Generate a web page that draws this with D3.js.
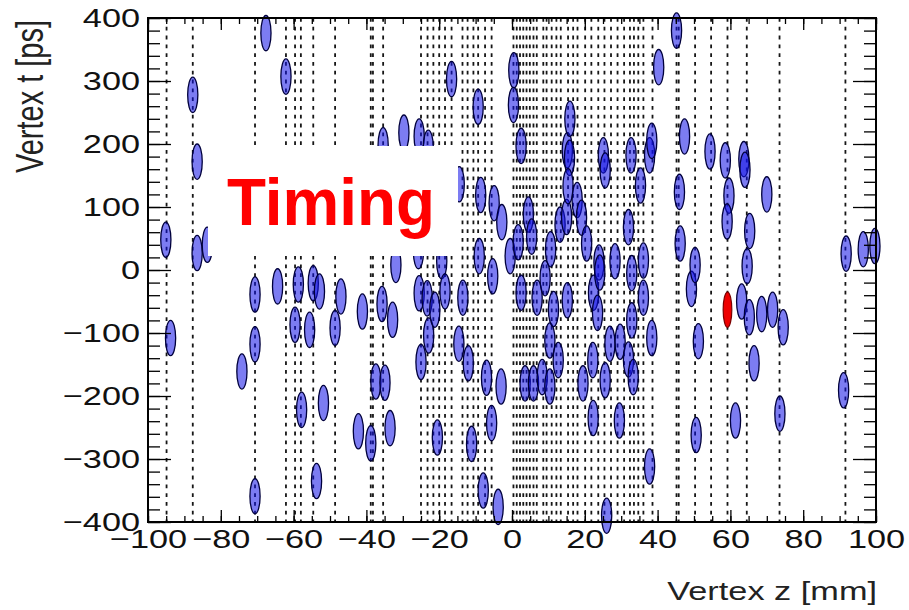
<!DOCTYPE html>
<html>
<head>
<meta charset="utf-8">
<script src="https://cdn.jsdelivr.net/npm/d3@7"></script>
<style>
  body { margin: 0; background: #fff; }
  text { font-family: "Liberation Sans", Arial, sans-serif; }
  .tick line { stroke: #000; stroke-width: 1.3; }
  .domain { display: none; }
</style>
</head>
<body>
<div id="graph-container"></div>
<script>
// reconstructed vertex positions (dashed lines), mm
const vertexZ = [-94.9, -87.7, -70.6, -62.1, -59.6, -58.0, -54.6, -48.6, -38.8, -38.2, -35.4,
  -25.0, -23.2, -21.6, -20.0, -18.4, -16.6, -13.6, -12.2, -10.6, -9.3, -7.4, -5.6,
  0.4, 1.3, 2.2, 3.1, 4.0, 4.9, 5.9, 6.8, 8.6, 9.5, 10.9, 12.2, 13.4, 15.4, 16.8, 18.0,
  20.1, 21.8, 23.7, 25.4, 27.2, 29.0, 30.8, 32.4, 33.5, 34.7, 36.1, 38.6,
  45.2, 45.8, 50.3, 54.7, 59.2, 64.5, 73.5, 91.6];

// track clusters: z [mm] and t [ps]
const trackZ = [-95.1, -93.8, -87.7, -86.5, -86.5, -83.7, -74.2, -70.6, -70.6, -70.6, -67.6, -64.4,
  -62.1, -59.6, -58.7, -57.8, -55.6, -54.6, -53.7, -52.9, -51.8, -48.6, -47.0, -42.2, -41.1,
  -38.8, -37.4, -35.7, -35.4, -34.9, -33.5, -32.8, -31.9, -29.7,
  -25.5, -25.7, -25.5, -25.0, -23.3, -23.0, -22.9, -21.2, -20.5, -19.3, -18.4, -16.6, -14.5,
  -14.6, -13.5, -12.0, -11.1, -9.3, -9.0, -8.6, -7.9, -7.0, -5.3, -5.6, -4.9, -3.8, -3.0, -2.8,
  -0.5, 0.5, 0.4, 1.7, 2.5, 2.5, 3.6, 4.5, 5.4, 5.9, 6.9, 8.3, 9.1, 10.4, 10.4, 10.6, 11.4,
  12.7, 13.2, 15.0, 15.2, 15.8, 15.9, 15.4, 15.2, 17.9, 19.1, 19.5, 20.5, 22.2, 22.4, 22.3,
  23.5, 23.9, 24.1, 25.1, 25.6, 25.6, 26.0, 26.9, 28.3, 29.5, 29.7, 32.0, 32.0, 32.7, 32.9,
  32.9, 33.3, 35.3, 36.1, 36.1, 37.8, 38.4, 38.4, 37.8, 40.3, 45.2, 46.0, 46.2, 47.4, 49.3,
  50.3, 51.2, 50.6, 54.4, 58.6, 59.6, 59.1, 61.4, 63.1, 63.7, 64.0, 64.6, 65.3, 65.2, 66.5,
  68.6, 70.0, 71.6, 73.6, 74.5, 91.1, 91.8, 96.5, 99.7];
const trackT = [48, -108, 278, 172, 27, 40, -161, -39, -118, -359, 376, -26,
  307, -87, -23, -222, -95, -21, -335, -34, -211, -92, -42, -256, -66,
  -275, -177, -54, 198, -179, -251, -79, 8, 218,
  212, 30, -37, -146, -45, 194, -104, -63, -266, 14, -34, 303, 136,
  -117, -44, -148, -276, 259, 22, 119, -350, -171, -10, -243, 106, -376, -185, 76,
  22, 317, 262, 44, 197, -36, -180, 88, 53, -180, -44, -170, -13, -112, -185, 33, -62,
  -143, 72, 84, 190, 178, 240, 133, -48, 111, 83, -180, 42, -143, -36, -235,
  -68, 12, -4, 182, 158, -175, -390, -117, 14, -239, -114, 68, -142, 182, -80,
  -5, -170, 134, 15, -44, 182, 205, -108, -312, 322, 380, 124, 42, 212, -30,
  8, -113, -262, 188, 174, 118, 77, -239, -50, 176, 159, 6, 62, -75, -148,
  -70, 120, -63, -228, -91, -191, 26, 33, 38];

// the signal vertex
const signalZ = [59.2];
const signalT = [-63];

const xTicks = [-100, -80, -60, -40, -20, 0, 20, 40, 60, 80, 100];
const yTicks = [-400, -300, -200, -100, 0, 100, 200, 300, 400];

// resolution of each cluster (ellipse half axes)
const sigmaZ = 1.4;
const sigmaT = 28;

const W = 909, H = 610;
const plot = { left: 148, right: 876, top: 18, bottom: 522 };
const stretch = 1.32;

const x = d3.scaleLinear().domain([-100, 100]).range([plot.left, plot.right]);
const y = d3.scaleLinear().domain([-400, 400]).range([plot.bottom, plot.top]);

const svg = d3.select('#graph-container')
              .append('svg')
              .attr('width', W)
              .attr('height', H);

// vertex lines
svg.append('g')
   .selectAll('line')
   .data(vertexZ)
   .enter()
   .append('line')
   .attr('x1', d => x(d))
   .attr('x2', d => x(d))
   .attr('y1', y(400))
   .attr('y2', y(-400))
   .attr('stroke', '#161616')
   .attr('stroke-width', 1.8)
   .attr('stroke-dasharray', '3.8,5');

const rx = x(sigmaZ) - x(0);
const ry = y(0) - y(sigmaT);

// track clusters
svg.append('g')
   .selectAll('ellipse')
   .data(trackZ.map((z, i) => [z, trackT[i]]))
   .enter()
   .append('ellipse')
   .attr('cx', d => x(d[0]))
   .attr('cy', d => y(d[1]))
   .attr('rx', rx)
   .attr('ry', ry)
   .attr('fill', '#1010e8')
   .attr('fill-opacity', 0.55)
   .attr('stroke', '#00003c')
   .attr('stroke-width', 1.3);

svg.append('g')
   .selectAll('ellipse')
   .data(signalZ.map((z, i) => [z, signalT[i]]))
   .enter()
   .append('ellipse')
   .attr('cx', d => x(d[0]))
   .attr('cy', d => y(d[1]))
   .attr('rx', rx * 0.85)
   .attr('ry', ry)
   .attr('fill', '#ee0000')
   .attr('stroke', '#7a0000')
   .attr('stroke-width', 1.2);

// axes: major and minor ticks on all four sides, pointing inward
function ticks(axis, transform, size, values, labels) {
  const g = svg.append('g')
               .attr('transform', transform)
               .call(axis.tickValues(values)
                         .tickSize(-size)
                         .tickSizeOuter(0)
                         .tickFormat(labels ? d3.format('') : ''));
  return g;
}

const xMinor = d3.range(-100, 101, 5);
const yMinor = d3.range(-400, 401, 20);

const bottom = ticks(d3.axisBottom(x).tickPadding(8), `translate(0,${plot.bottom})`, 12, xTicks, true);
ticks(d3.axisBottom(x), `translate(0,${plot.bottom})`, 6, xMinor, false);
ticks(d3.axisTop(x), `translate(0,${plot.top})`, 12, xTicks, false);
ticks(d3.axisTop(x), `translate(0,${plot.top})`, 6, xMinor, false);

const left = ticks(d3.axisLeft(y).tickPadding(6), `translate(${plot.left},0)`, 23, yTicks, true);
ticks(d3.axisLeft(y), `translate(${plot.left},0)`, 12, yMinor, false);
ticks(d3.axisRight(y), `translate(${plot.right},0)`, 23, yTicks, false);
ticks(d3.axisRight(y), `translate(${plot.right},0)`, 12, yMinor, false);

[bottom, left].forEach(g => {
  g.selectAll('text')
   .attr('font-size', 26)
   .attr('font-family', '"Liberation Sans", Arial, sans-serif')
   .attr('fill', '#111')
   .attr('transform', `scale(${stretch},1)`);
});

// frame
svg.append('rect')
   .attr('x', plot.left)
   .attr('y', plot.top)
   .attr('width', plot.right - plot.left)
   .attr('height', plot.bottom - plot.top)
   .attr('fill', 'none')
   .attr('stroke', '#000')
   .attr('stroke-width', 2);

// axis titles
svg.append('text')
   .attr('transform', `translate(877,600) scale(${stretch},1)`)
   .attr('text-anchor', 'end')
   .attr('font-size', 26)
   .attr('fill', '#222')
   .text('Vertex z [mm]');

svg.append('text')
   .attr('transform', `translate(43,20) scale(${stretch},1) rotate(-90)`)
   .attr('text-anchor', 'end')
   .attr('font-size', 29)
   .attr('fill', '#222')
   .text('Vertex t [ps]');

// overlay label
svg.append('rect')
   .attr('x', 208)
   .attr('y', 146)
   .attr('width', 250)
   .attr('height', 110)
   .attr('fill', '#fff');

svg.append('text')
   .attr('x', 227)
   .attr('y', 225)
   .attr('font-family', '"Open Sans", "Noto Sans", sans-serif')
   .attr('font-weight', 700)
   .attr('font-size', 66)
   .attr('textLength', 208)
   .attr('lengthAdjust', 'spacingAndGlyphs')
   .attr('fill', '#ff0000')
   .text('Timing');
</script>
</body>
</html>
